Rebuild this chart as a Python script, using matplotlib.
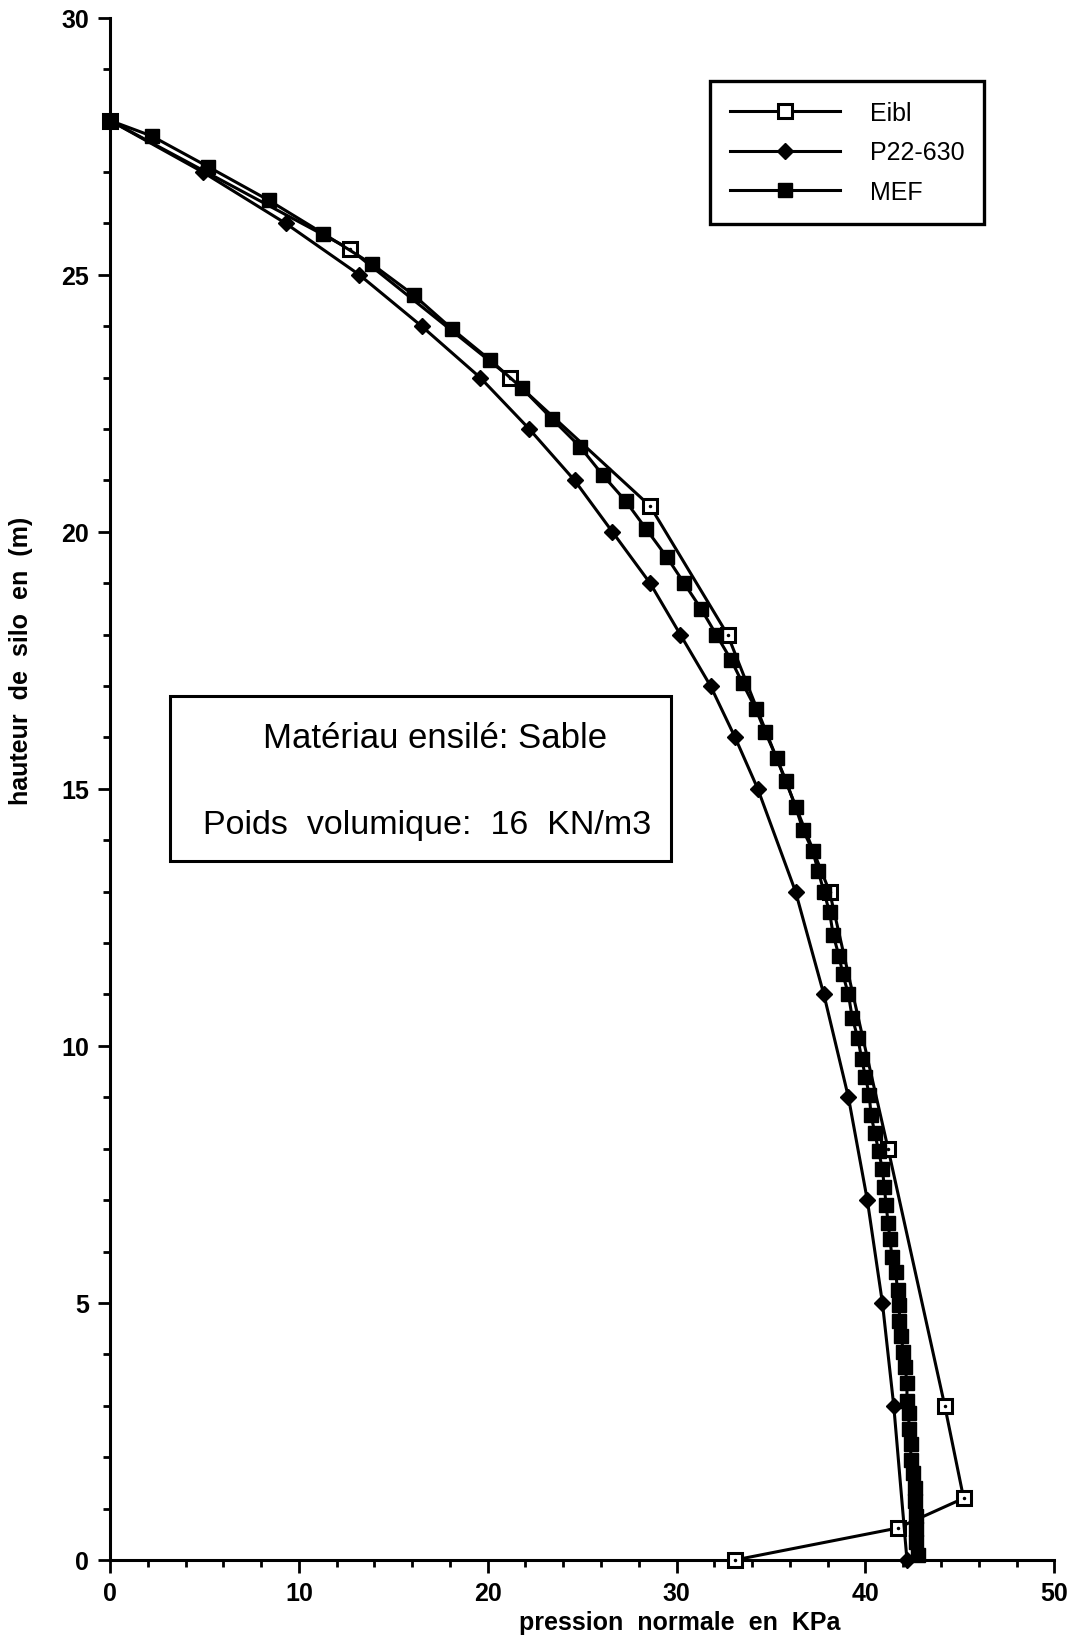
import numpy as np
import matplotlib
matplotlib.use('Agg')
import matplotlib.pyplot as plt
from matplotlib.patches import Rectangle
from matplotlib.ticker import MultipleLocator

plt.rcParams['font.family'] = ['Liberation Sans', 'DejaVu Sans']

#-------------------------------------------------------------------------------
# data (x: pression KPa, y: hauteur m)
#-------------------------------------------------------------------------------
eibl_x = [0.0, 12.7, 21.2, 28.6, 32.7, 38.1, 41.2, 44.2, 45.2, 41.7, 33.1]
eibl_y = [28.0, 25.5, 23.0, 20.5, 18.0, 13.0, 8.0, 3.0, 1.2, 0.62, 0.0]

p22_x = [0.0, 4.9, 9.3, 13.2, 16.5, 19.6, 22.2, 24.6, 26.6, 28.6, 30.2,
         31.8, 33.1, 34.3, 36.3, 37.8, 39.1, 40.1, 40.9, 41.5, 42.2]
p22_y = [28, 27, 26, 25, 24, 23, 22, 21, 20, 19, 18,
         17, 16, 15, 13, 11, 9, 7, 5, 3, 0]

mef_x = [0, 2.2, 5.2, 8.4, 11.3, 13.9, 16.1, 18.1, 20.1, 21.8,
         23.4, 24.9, 26.1, 27.3, 28.4, 29.5, 30.4, 31.3, 32.1, 32.9,
         33.5, 34.2, 34.7, 35.3, 35.8, 36.3, 36.7, 37.2, 37.5, 37.8,
         38.1, 38.3, 38.6, 38.8, 39.1, 39.3, 39.6, 39.8, 40.0, 40.2,
         40.3, 40.5, 40.7, 40.9, 41.0, 41.1, 41.2, 41.3, 41.4, 41.6,
         41.7, 41.8, 41.8, 41.9, 42.0, 42.1, 42.2, 42.2, 42.3, 42.3,
         42.4, 42.4, 42.5, 42.6, 42.6, 42.7, 42.7, 42.7, 42.8]
mef_y = [28.0, 27.7, 27.1, 26.45, 25.8, 25.2, 24.6, 23.95, 23.35, 22.8,
         22.2, 21.65, 21.1, 20.6, 20.05, 19.5, 19.0, 18.5, 18.0, 17.5,
         17.05, 16.55, 16.1, 15.6, 15.15, 14.65, 14.2, 13.8, 13.4, 13.0,
         12.6, 12.15, 11.75, 11.4, 11.0, 10.55, 10.15, 9.75, 9.4, 9.05,
         8.65, 8.3, 7.95, 7.6, 7.25, 6.9, 6.55, 6.25, 5.9, 5.6,
         5.25, 4.95, 4.65, 4.35, 4.05, 3.75, 3.45, 3.1, 2.85, 2.55,
         2.25, 1.95, 1.7, 1.4, 1.15, 0.85, 0.6, 0.35, 0.1]

labels = ['Eibl', 'P22-630', 'MEF']
box_lines = ['Matériau ensilé: Sable', 'Poids  volumique:  16  KN/m3']
xlabel = 'pression  normale  en  KPa'
ylabel = 'hauteur  de  silo  en  (m)'

#-------------------------------------------------------------------------------
fig = plt.figure(figsize=(10.78, 16.40), dpi=100)
ax = fig.add_axes([0.102, 0.0482, 0.876, 0.9404])

lw = 2.2
l1, = ax.plot(eibl_x, eibl_y, '-s', color='black', lw=lw, ms=10, mfc='white',
              mec='black', mew=2.2, clip_on=False, zorder=3)
ax.plot(eibl_x, eibl_y, '.', color='black', ms=3, clip_on=False, zorder=3)
l2, = ax.plot(p22_x, p22_y, '-D', color='black', lw=lw, ms=8.5, clip_on=False, zorder=4)
l3, = ax.plot(mef_x, mef_y, '-s', color='black', lw=lw, ms=10.5, clip_on=False, zorder=5)

ax.set_xlim(0, 50)
ax.set_ylim(0, 30)
ax.xaxis.set_major_locator(MultipleLocator(10))
ax.xaxis.set_minor_locator(MultipleLocator(2))
ax.yaxis.set_major_locator(MultipleLocator(5))
ax.yaxis.set_minor_locator(MultipleLocator(1))
ax.tick_params(which='major', direction='out', length=9, width=2, labelsize=18, pad=6)
ax.tick_params(which='minor', direction='out', length=5, width=2)
for t in ax.get_xticklabels() + ax.get_yticklabels():
    t.set_fontweight('bold')
for s in ['top', 'right']:
    ax.spines[s].set_visible(False)
for s in ['left', 'bottom']:
    ax.spines[s].set_linewidth(2.2)

fig.text(680/1078, 1 - 1623/1640, xlabel, ha='center', va='center',
         fontsize=18, fontweight='bold')
fig.text(21/1078, 1 - 661/1640, ylabel, ha='center', va='center',
         fontsize=18, fontweight='bold', rotation=90)

# text box
ax.add_patch(Rectangle((3.2, 13.6), 26.5, 3.2, fill=False, lw=2.2,
                       ec='black', zorder=6))
ax.text(17.2, 16.0, box_lines[0], ha='center', va='center', fontsize=25, zorder=7)
ax.text(16.8, 14.3, box_lines[1], ha='center', va='center', fontsize=24.5, zorder=7)

leg = ax.legend([l1, l2, l3], labels, loc='upper right',
                bbox_to_anchor=(0.926, 0.959), fontsize=18, frameon=True,
                fancybox=False, edgecolor='black', framealpha=1,
                handlelength=4.4, handletextpad=1.2, labelspacing=0.62,
                borderpad=0.8, borderaxespad=0)
leg.get_frame().set_linewidth(2.4)

plt.savefig('out.png', dpi=100)
plt.close()
